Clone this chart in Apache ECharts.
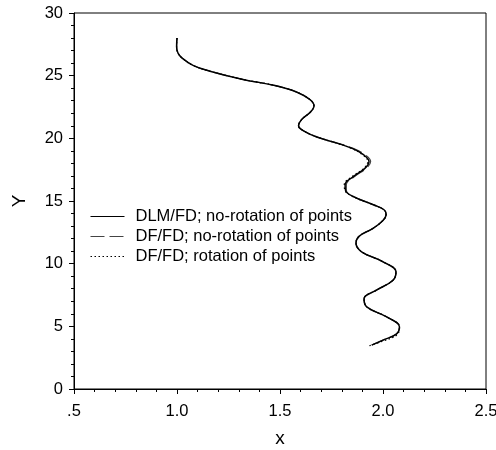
<!DOCTYPE html>
<html>
<head>
<meta charset="utf-8">
<script src="https://cdn.jsdelivr.net/npm/echarts@6/dist/echarts.min.js"></script>
<style>
  html, body { margin: 0; padding: 0; background: #fff; }
  #chart { width: 496px; height: 450px; }
</style>
</head>
<body>
<div id="chart"></div>
<script>
// 图例名称
var seriesNames = ["DLM/FD; no-rotation of points", "DF/FD; no-rotation of points", "DF/FD; rotation of points"];

// 曲线数据 [x, Y]，从上往下读
var dlmNoRot = [
  [1.000, 28.0], [0.998, 27.3], [1.005, 26.8], [1.025, 26.4], [1.080, 25.8], [1.160, 25.36],
  [1.320, 24.7], [1.480, 24.2], [1.580, 23.7], [1.645, 23.1], [1.665, 22.6], [1.648, 22.1],
  [1.605, 21.5], [1.590, 21.0], [1.625, 20.5], [1.690, 20.05], [1.780, 19.6], [1.850, 19.2],
  [1.905, 18.7], [1.932, 18.15], [1.912, 17.6], [1.856, 16.95], [1.816, 16.3], [1.818, 15.85],
  [1.856, 15.35], [1.953, 14.7], [2.005, 14.3], [2.015, 13.9], [2.000, 13.45], [1.950, 12.8],
  [1.885, 12.2], [1.869, 11.65], [1.896, 10.95], [2.000, 10.15], [2.063, 9.35], [2.050, 8.7],
  [1.970, 7.9], [1.908, 7.2], [1.921, 6.55], [2.018, 5.75], [2.080, 4.95], [2.066, 4.4],
  [2.000, 3.9], [1.945, 3.5]
];
var dfNoRot = [
  [1.000, 28.0], [0.998, 27.3], [1.005, 26.8], [1.025, 26.4], [1.080, 25.8], [1.160, 25.36],
  [1.320, 24.7], [1.480, 24.2], [1.580, 23.7], [1.645, 23.1], [1.665, 22.6], [1.648, 22.1],
  [1.605, 21.5], [1.590, 21.0], [1.625, 20.5], [1.690, 20.05], [1.782, 19.6], [1.855, 19.2],
  [1.912, 18.7], [1.940, 18.15], [1.918, 17.6], [1.862, 16.95], [1.822, 16.3], [1.822, 15.85],
  [1.858, 15.35], [1.953, 14.7], [2.005, 14.3], [2.015, 13.9], [2.000, 13.45], [1.950, 12.8],
  [1.885, 12.2], [1.869, 11.65], [1.896, 10.95], [2.000, 10.15], [2.063, 9.35], [2.050, 8.7],
  [1.970, 7.9], [1.908, 7.2], [1.921, 6.55], [2.018, 5.75], [2.080, 4.95], [2.066, 4.4],
  [2.000, 3.9], [1.945, 3.5]
];
var dfRot = [
  [1.000, 28.0], [0.998, 27.3], [1.005, 26.8], [1.025, 26.4], [1.080, 25.8], [1.160, 25.36],
  [1.320, 24.7], [1.480, 24.2], [1.580, 23.7], [1.645, 23.1], [1.665, 22.6], [1.648, 22.1],
  [1.605, 21.5], [1.590, 21.0], [1.625, 20.5], [1.690, 20.05], [1.778, 19.6], [1.846, 19.2],
  [1.900, 18.7], [1.926, 18.15], [1.906, 17.6], [1.850, 16.95], [1.812, 16.3], [1.815, 15.85],
  [1.854, 15.35], [1.953, 14.7], [2.005, 14.3], [2.015, 13.9], [2.000, 13.45], [1.950, 12.8],
  [1.885, 12.2], [1.869, 11.65], [1.896, 10.95], [2.000, 10.15], [2.063, 9.35], [2.050, 8.7],
  [1.970, 7.9], [1.908, 7.2], [1.921, 6.55], [2.018, 5.75], [2.080, 4.95], [2.070, 4.35],
  [1.995, 3.8], [1.925, 3.4]
];

(function () {
  var myChart = echarts.init(document.getElementById("chart"));
  var font = "Liberation Sans, Arial, sans-serif";

  var option = {
    animation: false,
    grid: {
      left: 74,
      right: 10,
      top: 13,
      bottom: 61,
      outerBoundsMode: "none",
      containLabel: false,
      show: true,
      borderColor: "#000",
      borderWidth: 1
    },
    legend: {
      orient: "vertical",
      left: 85,
      top: 203,
      itemWidth: 34,
      itemHeight: 12,
      itemGap: 3,
      itemStyle: { opacity: 0 },
      lineStyle: { width: 1 },
      textStyle: { fontFamily: font, fontSize: 16.5, color: "#000", padding: [0, 0, 0, 6] },
      data: seriesNames
    },
    xAxis: {
      type: "value",
      min: 0.5,
      max: 2.5,
      interval: 0.5,
      name: "x",
      nameLocation: "middle",
      nameGap: 40,
      nameTextStyle: { fontFamily: font, fontSize: 19, color: "#000" },
      axisLine: { lineStyle: { color: "#000", width: 1 } },
      axisTick: { length: 5, lineStyle: { color: "#000" } },
      minorTick: { show: true, splitNumber: 5, length: 3, lineStyle: { color: "#000" } },
      splitLine: { show: false },
      axisLabel: {
        fontFamily: font, fontSize: 16.5, color: "#000", margin: 14,
        formatter: function (v) { return v === 0.5 ? ".5" : v.toFixed(1); }
      }
    },
    yAxis: {
      type: "value",
      min: 0,
      max: 30,
      interval: 5,
      name: "Y",
      nameLocation: "middle",
      nameGap: 45,
      nameTextStyle: { fontFamily: font, fontSize: 19, color: "#000" },
      axisLine: { show: true, lineStyle: { color: "#000", width: 1 } },
      axisTick: { show: true, length: 5, lineStyle: { color: "#000" } },
      minorTick: { show: true, splitNumber: 5, length: 3, lineStyle: { color: "#000" } },
      splitLine: { show: false },
      axisLabel: { fontFamily: font, fontSize: 16.5, color: "#000", margin: 11 }
    },
    series: [
      {
        name: seriesNames[0],
        type: "line",
        data: dlmNoRot,
        smooth: 0.4,
        symbol: "none",
        itemStyle: { color: "#000" },
        lineStyle: { color: "#000", width: 1.5, type: "solid" },
        z: 3
      },
      {
        name: seriesNames[1],
        type: "line",
        data: dfNoRot,
        smooth: 0.4,
        symbol: "none",
        itemStyle: { color: "#444" },
        lineStyle: { color: "#444", width: 1.2, type: [14, 5] },
        z: 2
      },
      {
        name: seriesNames[2],
        type: "line",
        data: dfRot,
        smooth: 0.4,
        symbol: "none",
        itemStyle: { color: "#000" },
        lineStyle: { color: "#000", width: 1.2, type: [1.5, 2.5] },
        z: 2
      }
    ]
  };

  myChart.setOption(option);

  window.addEventListener("resize", function () {
    myChart.resize();
  });
})();
</script>
</body>
</html>
